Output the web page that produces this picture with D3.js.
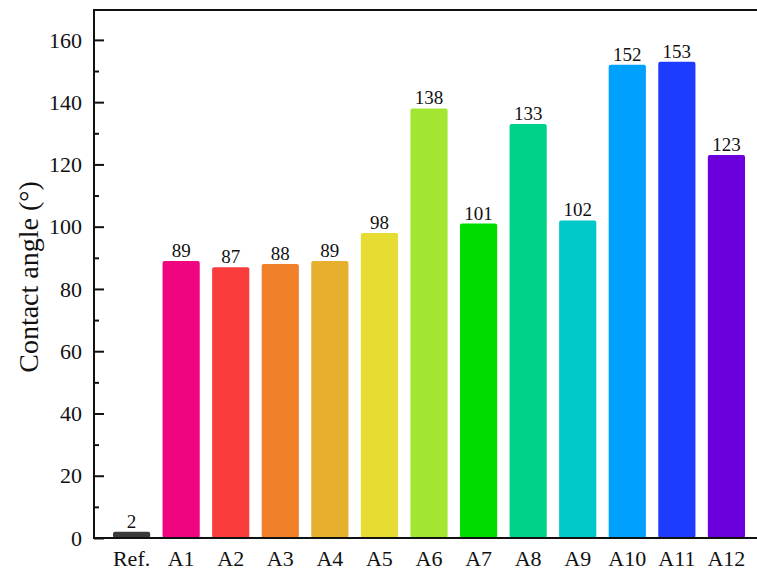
<!DOCTYPE html>
<html>
<head>
<meta charset="utf-8">
<script src="https://cdn.jsdelivr.net/npm/d3@7"></script>
<style>
  body { margin: 0; background: #fff; }
  text { font-family: "Liberation Serif", "DejaVu Serif", serif; fill: #111; }
</style>
</head>
<body>
<svg id="chart" width="757" height="571"></svg>
<script>
const categories = ['Ref.', 'A1', 'A2', 'A3', 'A4', 'A5', 'A6', 'A7', 'A8', 'A9', 'A10', 'A11', 'A12']
const values = [2, 89, 87, 88, 89, 98, 138, 101, 133, 102, 152, 153, 123]
const colors = ['#3a3a3a', '#f0047f', '#fa3c3c', '#f0802a', '#e6af2e', '#e6dc32',
                '#a2e632', '#00dc00', '#00d28a', '#00c8c8', '#00a0ff', '#1e3cff', '#6c00dc']
const yTicks = [0, 20, 40, 60, 80, 100, 120, 140, 160]
const yMinorTicks = [10, 30, 50, 70, 90, 110, 130, 150]

const margin = { left: 94, top: 10, bottom: 33 }
const svg = d3.select('#chart')
const height = 571

let x = d3.scaleBand()
    .domain(categories)
    .range([margin.left, 764])
    .paddingInner(0.25)
    .paddingOuter(0.383)

let y = d3.scaleLinear()
    .domain([0, 169.6])
    .range([height - margin.bottom, margin.top])

// bars
svg.append('g')
    .selectAll('rect')
    .data(values)
    .enter()
    .append('rect')
    .attr('x', (d, i) => x(categories[i]))
    .attr('y', d => y(d))
    .attr('width', x.bandwidth())
    .attr('height', d => y(0) - y(d))
    .attr('rx', 2)
    .attr('fill', (d, i) => colors[i])

// value labels
svg.append('g')
    .selectAll('text')
    .data(values)
    .enter()
    .append('text')
    .attr('x', (d, i) => x(categories[i]) + x.bandwidth() / 2)
    .attr('y', d => y(d) - 4)
    .attr('text-anchor', 'middle')
    .attr('font-size', 19)
    .text(d => d)

// frame lines
svg.append('line')
    .attr('x1', margin.left).attr('x2', 757)
    .attr('y1', y(0)).attr('y2', y(0))
    .attr('stroke', '#111').attr('stroke-width', 2)
svg.append('line')
    .attr('x1', margin.left).attr('x2', 757)
    .attr('y1', margin.top).attr('y2', margin.top)
    .attr('stroke', '#111').attr('stroke-width', 2)

// y axis
const yAxis = svg.append('g')
    .attr('transform', `translate(${margin.left},0)`)
    .call(d3.axisRight(y).tickValues(yTicks).tickSize(10).tickFormat(''))
yAxis.select('.domain').remove()
yAxis.selectAll('line').attr('stroke', '#111').attr('stroke-width', 2)

svg.append('g')
    .attr('transform', `translate(${margin.left},0)`)
    .call(d3.axisRight(y).tickValues(yMinorTicks).tickSize(5).tickFormat(''))
    .call(g => g.select('.domain').remove())
    .selectAll('line').attr('stroke', '#111').attr('stroke-width', 2)

svg.append('line')
    .attr('x1', margin.left).attr('x2', margin.left)
    .attr('y1', margin.top - 1).attr('y2', y(0) + 1)
    .attr('stroke', '#111').attr('stroke-width', 2)

svg.append('g')
    .selectAll('text')
    .data(yTicks)
    .enter()
    .append('text')
    .attr('x', margin.left - 12)
    .attr('y', d => y(d))
    .attr('dy', '0.35em')
    .attr('text-anchor', 'end')
    .attr('font-size', 22)
    .text(d => d)

// x labels
svg.append('g')
    .selectAll('text')
    .data(categories)
    .enter()
    .append('text')
    .attr('x', d => x(d) + x.bandwidth() / 2)
    .attr('y', 566)
    .attr('text-anchor', 'middle')
    .attr('font-size', 22)
    .text(d => d)

// y title
svg.append('text')
    .attr('transform', 'translate(38,277) rotate(-90)')
    .attr('text-anchor', 'middle')
    .attr('font-size', 28)
    .text('Contact angle (°)')
</script>
</body>
</html>
